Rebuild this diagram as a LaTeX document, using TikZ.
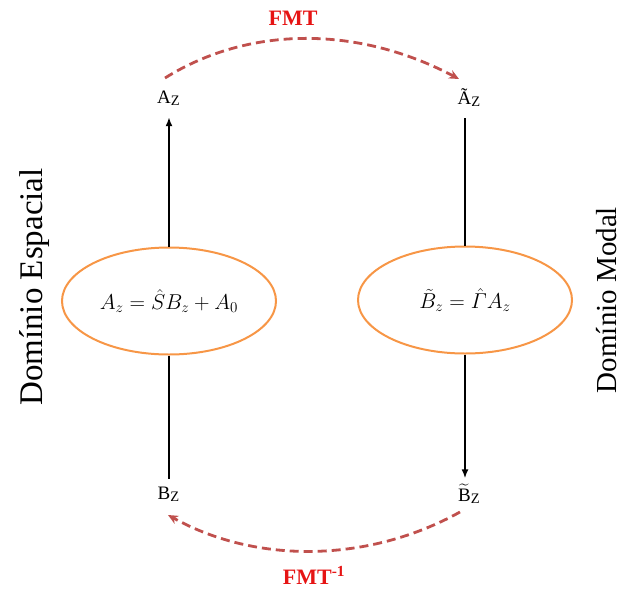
\documentclass[tikz,border=0pt]{standalone}
\usepackage{fix-cm}
\usepackage{amsmath}
\usepackage[no-math]{fontspec}
\setmainfont{Liberation Serif}
\usetikzlibrary{arrows.meta,shapes.geometric}
\definecolor{dashred}{HTML}{C0504D}
\definecolor{ellor}{HTML}{F79646}
\definecolor{fmtred}{RGB}{230,20,20}
\newcommand\zsubz{\raisebox{-2pt}{\fontsize{14.5}{14.5}\selectfont Z}}
\begin{document}
\begin{tikzpicture}[x=1pt,y=-1pt,
  lbl/.style={inner sep=0pt, anchor=base, font=\fontsize{19}{19}\selectfont},
  eqn/.style={ellipse, draw=ellor, line width=2pt, minimum width=214pt, minimum height=107pt, inner sep=0pt, font=\fontsize{21.5}{25}\selectfont},
  conn/.style={line width=1.7pt, draw=black},
  tip/.style={-{Latex[length=9pt,width=7pt]}},
  tr/.style={draw=dashred, line width=2.8pt, dash pattern=on 9pt off 5pt, -{Stealth[length=10pt,width=9pt]}},
  fmtlbl/.style={text=fmtred, font=\fontsize{22}{22}\selectfont\bfseries, inner sep=0pt},
  dom/.style={rotate=90, anchor=base, inner sep=0pt}
]
\useasboundingbox (0,0) rectangle (621,592);

% labels
\node[lbl] (az)  at (168.5,103) {A\zsubz};
\node[lbl] (atz) at (469,104) {Ã\zsubz};
\node[lbl] (bz)  at (168.5,499) {B\zsubz};
\node[lbl] (btz) at (469,501) {$\widetilde{\mbox{B}}$\zsubz};

% ellipses
\node[eqn] (e1) at (169,301) {$A_z = \hat{S} B_z + A_0$};
\node[eqn] (e2) at (465,300) {$\tilde{B}_z = \hat{\varGamma} A_z$};

% vertical connectors
\draw[conn,tip] (e1.north) -- ([yshift=-12pt]e1.north |- az.south);
\draw[conn] (e1.south) -- ([yshift=7pt]e1.south |- bz.north);
\draw[conn] ([yshift=-12pt]e2.north |- atz.south) -- (e2.north);
\draw[conn,tip] (e2.south) -- ([yshift=5pt]e2.south |- btz.north);

% transform curves
\coordinate (ts) at (165,78);
\coordinate (te) at (459,79);
\coordinate (bs) at (460,512);
\coordinate (be) at (168,515);
\draw[tr] (ts) .. controls +(85,-53) and +(-100,-53) .. (te);
\draw[tr] (bs) .. controls +(-90,50) and +(90,50) .. (be);

\node[fmtlbl] (fmt) at (293,18) {FMT};
\node[fmtlbl, anchor=base] (fmti) at (314,584) {FMT\textsuperscript{-1}};

% domain labels
\node[dom, font=\fontsize{33}{33}\selectfont] (ldom) at (42,287) {Domínio Espacial};
\node[dom, font=\fontsize{29}{29}\selectfont] (rdom) at (616,300) {Domínio Modal};
\end{tikzpicture}
\end{document}
